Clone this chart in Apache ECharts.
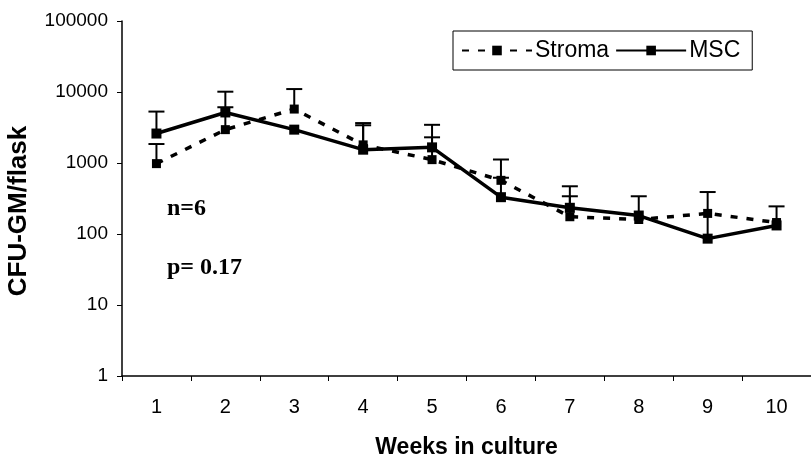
<!DOCTYPE html>
<html><head><meta charset="utf-8">
<script src="https://cdn.jsdelivr.net/npm/echarts@6/dist/echarts.min.js"></script>
<style>html,body{margin:0;padding:0;background:#fff}#c{width:811px;height:464px}</style>
</head><body><div id="c"></div>
<script>
const weeks = ['1','2','3','4','5','6','7','8','9','10'];
const yTicks = [1,10,100,1000,10000,100000];
const stroma = [980, 2950, 5750, 1800, 1115, 570, 175, 160, 195, 145];
const msc = [2600, 5150, 2950, 1540, 1660, 330, 234, 182, 86, 132];
const stromaErrTop = [1850, 6100, 11000, 3650, 2300, 1120, 340, null, null, null];
const mscErrTop = [5300, 10100, null, 3400, 3450, 620, 470, 340, 390, 245];

function errData(vals, tops){
  const out = [];
  for (let i=0;i<vals.length;i++){ if (tops[i]!=null) out.push([i, vals[i], tops[i]]); }
  return out;
}
function renderErr(params, api){
  const x = api.value(0);
  const p0 = api.coord([x, api.value(1)]);
  const p1 = api.coord([x, api.value(2)]);
  const hw = 8;
  return {type:'group', children:[
    {type:'line', shape:{x1:p0[0],y1:p0[1],x2:p1[0],y2:p1[1]}, style:{stroke:'#000',lineWidth:2}},
    {type:'line', shape:{x1:p1[0]-hw,y1:p1[1],x2:p1[0]+hw,y2:p1[1]}, style:{stroke:'#000',lineWidth:2}}
  ]};
}
const chart = echarts.init(document.getElementById('c'));
chart.setOption({
  animation:false,
  backgroundColor:'#fff',
  grid:{left:122, top:21, bottom:87, width:694},
  legend:{
    left:453, top:31,
    data:['Stroma','MSC'],
    borderColor:'#000', borderWidth:1, padding:[8,12,8,8],
    itemWidth:70, itemHeight:12, itemGap:6,
    textStyle:{fontFamily:'Liberation Sans', fontSize:23, color:'#000', padding:[0,0,0,-2]}
  },
  xAxis:{
    type:'category', data:weeks, boundaryGap:true,
    axisLine:{lineStyle:{color:'#000',width:1.5}},
    axisTick:{show:true, length:5, lineStyle:{color:'#000'}},
    axisLabel:{color:'#000', fontFamily:'Liberation Sans', fontSize:20, margin:21},
    name:'Weeks in culture', nameLocation:'middle', nameGap:60,
    nameTextStyle:{color:'#000', fontFamily:'Liberation Sans', fontWeight:'bold', fontSize:23}
  },
  yAxis:{
    type:'log', logBase:10, min:1, max:100000,
    axisLine:{show:true, lineStyle:{color:'#000',width:1.5}},
    axisTick:{show:true, length:5, lineStyle:{color:'#000'}},
    splitLine:{show:false},
    axisLabel:{color:'#000', fontFamily:'Liberation Sans', fontSize:19, margin:14,
      formatter:function(v){ return String(Math.round(v)); }}
  },
  graphic:[
    {type:'text', x:19, y:211, rotation:Math.PI/2, style:{text:'CFU-GM/flask', fill:'#000',
      font:'bold 26px "Liberation Sans"', textAlign:'center', textVerticalAlign:'middle'}},
    {type:'text', x:167, y:197, style:{text:'n=6', fill:'#000', font:'bold 24px "Liberation Serif"'}},
    {type:'text', x:167, y:256, style:{text:'p= 0.17', fill:'#000', font:'bold 24px "Liberation Serif"'}}
  ],
  series:[
    {name:'Stroma', type:'line', data:stroma, symbol:'rect', symbolSize:9,
      itemStyle:{color:'#000'}, lineStyle:{color:'#000', width:3.5, type:[7,9]}, z:3},
    {name:'MSC', type:'line', data:msc, symbol:'rect', symbolSize:10,
      itemStyle:{color:'#000'}, lineStyle:{color:'#000', width:3.5}, z:4},
    {name:'StromaErr', type:'custom', data:errData(stroma, stromaErrTop), renderItem:renderErr, z:2,
      encode:{x:0,y:[1,2]}},
    {name:'MSCErr', type:'custom', data:errData(msc, mscErrTop), renderItem:renderErr, z:2,
      encode:{x:0,y:[1,2]}}
  ]
});
</script></body></html>
